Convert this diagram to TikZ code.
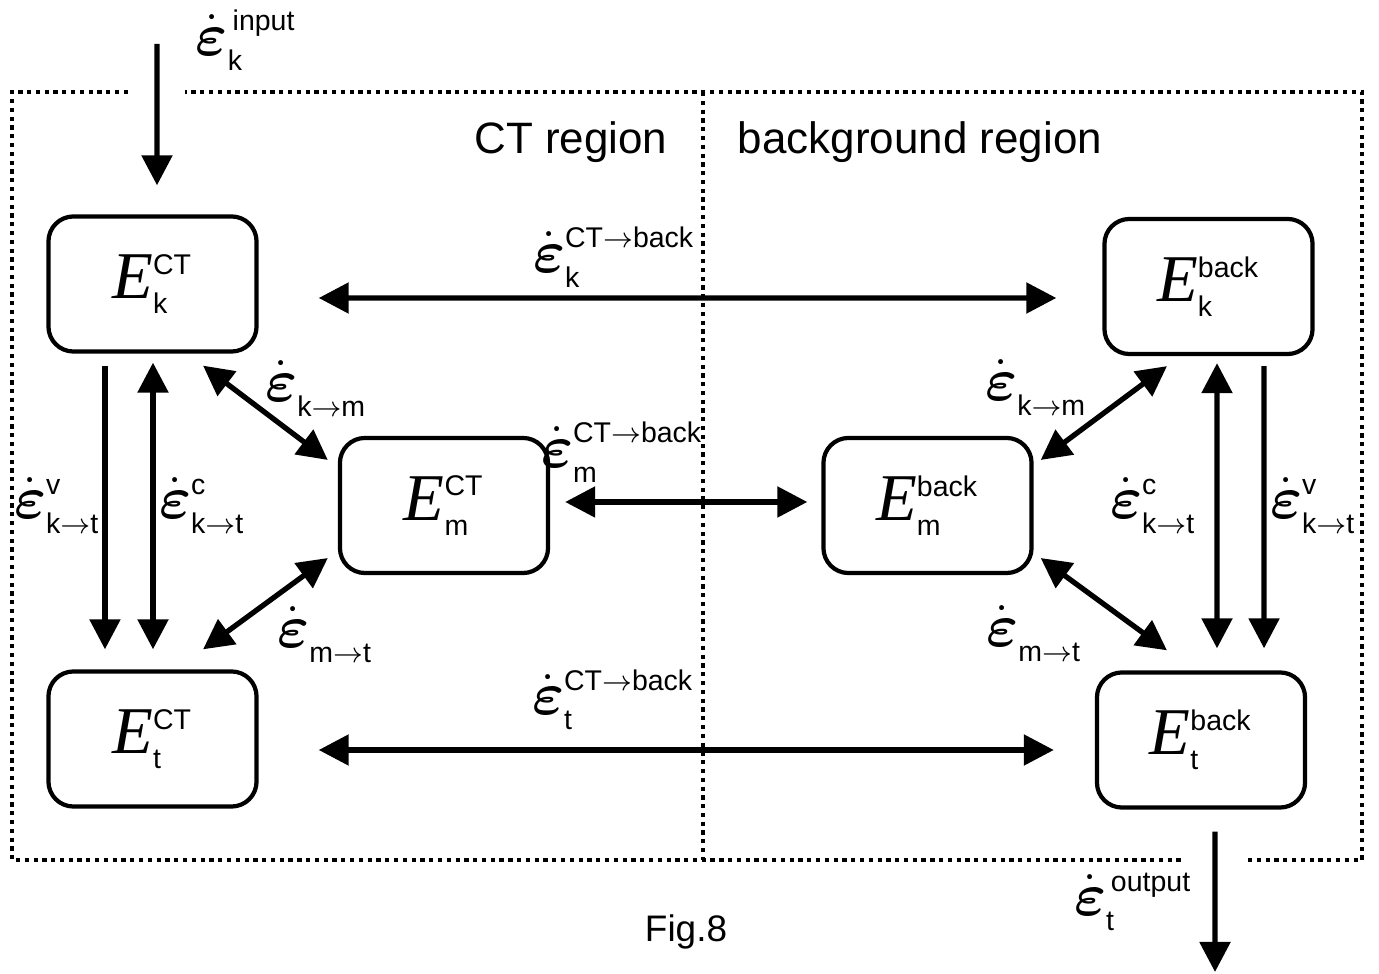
\documentclass[tikz,border=0pt]{standalone}
\usepackage{amsmath}
\usepackage{fontspec}
\setmainfont{Liberation Serif}
\setsansfont{Liberation Sans}
\usetikzlibrary{arrows.meta}

% script-size sans labels
\newcommand{\scrtxt}{\sffamily\fontsize{8.1}{9}\selectfont}
% energy reservoir symbol E_sub^sup
\newcommand{\Ebox}[2]{{\fontsize{19}{19}\selectfont$\mbox{\itshape E}^{\mbox{\scrtxt #2}}_{\mbox{\scrtxt #1}}$}}
% transfer rate symbol
\newcommand{\rate}[2]{{\fontsize{16.5}{16.5}\selectfont$\dot{\boldsymbol{\varepsilon}}^{\mbox{\scrtxt #2}}_{\mbox{\scrtxt #1}}$}}

\tikzset{
  store/.style={draw, line width=1.2pt, rounded corners=0.25cm,
    minimum width=2.08cm, minimum height=1.35cm, inner sep=0pt},
  frame/.style={line width=1.2pt, dash pattern=on 1.2pt off 1.3pt},
  tip/.style={-{Triangle[length=0.3cm,width=0.3cm]}, line width=1.5pt},
  dbl/.style={{Triangle[length=0.3cm,width=0.3cm]}-{Triangle[length=0.3cm,width=0.3cm]}, line width=1.5pt},
  lab/.style={inner sep=0pt},
  title/.style={font=\sffamily\fontsize{12.5}{13}\selectfont, inner sep=0pt}
}

\begin{document}
\begin{tikzpicture}[x=0.01cm, y=-0.01cm]
\useasboundingbox (0,0) rectangle (1379,974);

% dotted region frame with gaps for input and output
\draw[frame] (128,92) -- (12,92) -- (12,860) -- (1185,860);
\draw[frame] (1248,860) -- (1362,860) -- (1362,92) -- (185,92);
\draw[frame] (703,92) -- (703,860);

\node[title] (ctr) at (571,142) {CT region};
\node[title] (bgr) at (920,142) {background region};

% reservoirs
\node[store] (kCT)   at (152.5,284)   {\Ebox{k}{CT}};
\node[store] (tCT)   at (152.5,739)   {\Ebox{t}{CT}};
\node[store] (mCT)   at (444,505.5)   {\Ebox{m}{CT}};
\node[store] (mback) at (927.5,505.5) {\Ebox{m}{back}};
\node[store] (kback) at (1208.5,286.5){\Ebox{k}{back}};
\node[store] (tback) at (1201,740)    {\Ebox{t}{back}};

% input and output
\coordinate (in)  at (157,44);
\coordinate (out) at (1215,972);
\draw[tip, shorten >=0.29cm] (in) -- ([xshift=0.045cm]kCT.north);
\draw[tip] ([xshift=0.14cm, yshift=-0.22cm]tback.south) -- (out);

% CT <-> background exchanges
\draw[dbl, shorten <=0.6cm, shorten >=0.46cm] ([yshift=-0.14cm]kCT.east) -- ([yshift=-0.115cm]kback.west);
\draw[dbl, shorten <=0.15cm, shorten >=0.14cm] ([yshift=0.035cm]mCT.east) -- ([yshift=0.035cm]mback.west);
\draw[dbl, shorten <=0.6cm, shorten >=0.41cm] ([yshift=-0.11cm]tCT.east) -- ([yshift=-0.10cm]tback.west);

% CT region internal transfers
\draw[tip, shorten <=0.12cm, shorten >=0.2cm] ([xshift=-0.475cm]kCT.south) -- ([xshift=-0.475cm]tCT.north);
\draw[dbl, shorten <=0.09cm, shorten >=0.2cm] ([xshift=0.005cm]kCT.south) -- ([xshift=0.005cm]tCT.north);
\draw[dbl] ([xshift=0.505cm, yshift=-0.12cm]kCT.south) -- ([xshift=-0.1cm, yshift=0.455cm]mCT.west);
\draw[dbl] ([xshift=-0.1cm, yshift=-0.525cm]mCT.west) -- ([xshift=0.505cm, yshift=0.2cm]tCT.north);

% background region internal transfers
\draw[dbl, shorten <=0.07cm, shorten >=0.22cm] ([xshift=0.085cm]kback.south) -- ([xshift=0.16cm]tback.north);
\draw[tip, shorten <=0.1cm, shorten >=0.22cm] ([xshift=0.555cm]kback.south) -- ([xshift=0.63cm]tback.north);
\draw[dbl] ([xshift=-0.415cm, yshift=-0.1cm]kback.south) -- ([xshift=0.07cm, yshift=0.455cm]mback.east);
\draw[dbl] ([xshift=0.07cm, yshift=-0.525cm]mback.east) -- ([xshift=-0.34cm, yshift=0.2cm]tback.north);

% rate labels
\node[lab] (lin)  at (246,40)   {\rate{k}{\,input}};
\node[lab] (lout) at (1133,902) {\rate{t}{\,output}};
\node[lab] (lk)   at (614,257)  {\rate{k}{CT$\rightarrow$back}};
\node[lab] (lm)   at (622,452)  {\rate{m}{CT$\rightarrow$back}};
\node[lab] (lt)   at (613,700)  {\rate{t}{CT$\rightarrow$back}};
\node[lab] (lkm1) at (316,389)  {\rate{k$\rightarrow$m}{}};
\node[lab] (lkm2) at (1036,388) {\rate{k$\rightarrow$m}{}};
\node[lab] (lmt1) at (325,635)  {\rate{m$\rightarrow$t}{}};
\node[lab] (lmt2) at (1034,634) {\rate{m$\rightarrow$t}{}};
\node[lab] (lv1)  at (57,506)   {\rate{k$\rightarrow$t}{v}};
\node[lab] (lc1)  at (202,506)  {\rate{k$\rightarrow$t}{c}};
\node[lab] (lc2)  at (1153,506) {\rate{k$\rightarrow$t}{c}};
\node[lab] (lv2)  at (1313,506) {\rate{k$\rightarrow$t}{v}};

\node[title, font=\sffamily\fontsize{10.5}{11}\selectfont] (fig) at (686,932) {Fig.8};
\end{tikzpicture}
\end{document}
